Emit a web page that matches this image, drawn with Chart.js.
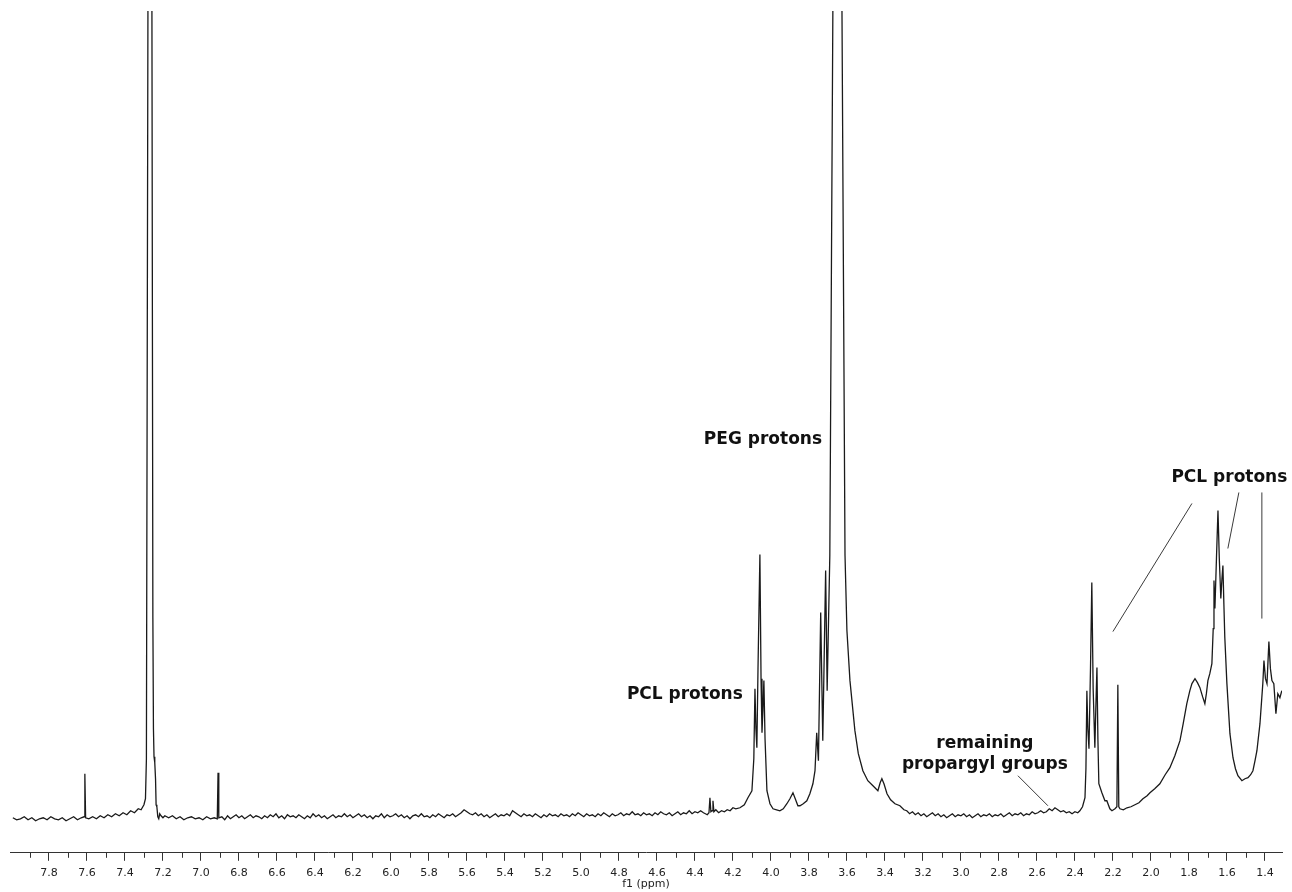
<!DOCTYPE html>
<html>
<head>
<meta charset="utf-8">
<script src="https://cdn.jsdelivr.net/npm/chart.js@4.4.1/dist/chart.umd.min.js"></script>
<style>
  html, body { margin: 0; padding: 0; background: #fff; }
  #wrap { width: 1292px; height: 892px; }
</style>
</head>
<body>
<div id="wrap"><canvas id="nmr" width="1292" height="892"></canvas></div>
<script>
// chemical shift (ppm) and intensity (a.u., 0 = baseline), region by region

// 8.0 - 6.9 ppm: 7.61, CDCl3 at 7.26, 6.91
const aromaticPpm = [
  7.99, 7.97, 7.95, 7.93, 7.91, 7.89, 7.87, 7.85, 7.83, 7.81, 7.79, 7.77, 7.75, 7.73, 7.71, 7.69, 7.67, 7.65, 7.63,
  7.615, 7.611, 7.607,
  7.59, 7.57, 7.55, 7.53, 7.51, 7.49, 7.47, 7.45, 7.43, 7.41, 7.39, 7.37, 7.35, 7.33, 7.315, 7.30, 7.292, 7.287,
  7.279, 7.268, 7.258, 7.253, 7.250, 7.247, 7.243, 7.239, 7.236, 7.232, 7.227, 7.222, 7.217, 7.21, 7.20, 7.19,
  7.17, 7.15, 7.13, 7.11, 7.09, 7.07, 7.05, 7.03, 7.01, 6.99, 6.97, 6.95, 6.93, 6.914, 6.910, 6.906
];
const aromaticSignal = [
  1, -1, 0, 2, -1, 1, -2, 0, 1, -1, 2, 0, -1, 1, -2, 0, 2, -1, 1,
  2, 45, 1,
  0, 2, 0, 3, 1, 4, 2, 5, 3, 6, 4, 8, 6, 10, 9, 14, 20, 60,
  807, 2500, 807, 200, 90, 62, 56, 40, 14, 12, 2, 0, 5, 3, 1, 3,
  1, 3, 0, 2, -1, 1, 2, 0, 1, -1, 2, 0, 1, 0, 46, 1
];

// 6.9 - 4.36 ppm: empty baseline
const baselinePpm = [
  6.890, 6.875, 6.860, 6.845, 6.830, 6.815, 6.800, 6.785, 6.770, 6.755,
  6.740, 6.725, 6.710, 6.695, 6.680, 6.665, 6.650, 6.635, 6.620, 6.605,
  6.590, 6.575, 6.560, 6.545, 6.530, 6.515, 6.500, 6.485, 6.470, 6.455,
  6.440, 6.425, 6.410, 6.395, 6.380, 6.365, 6.350, 6.335, 6.320, 6.305,
  6.290, 6.275, 6.260, 6.245, 6.230, 6.215, 6.200, 6.185, 6.170, 6.155,
  6.140, 6.125, 6.110, 6.095, 6.080, 6.065, 6.050, 6.035, 6.020, 6.005,
  5.990, 5.975, 5.960, 5.945, 5.930, 5.915, 5.900, 5.885, 5.870, 5.855,
  5.840, 5.825, 5.810, 5.795, 5.780, 5.765, 5.750, 5.735, 5.720, 5.705,
  5.690, 5.675, 5.660, 5.645, 5.630, 5.615, 5.600, 5.585, 5.570, 5.555,
  5.540, 5.525, 5.510, 5.495, 5.480, 5.465, 5.450, 5.435, 5.420, 5.405,
  5.390, 5.375, 5.360, 5.345, 5.330, 5.315, 5.300, 5.285, 5.270, 5.255,
  5.240, 5.225, 5.210, 5.195, 5.180, 5.165, 5.150, 5.135, 5.120, 5.105,
  5.090, 5.075, 5.060, 5.045, 5.030, 5.015, 5.000, 4.985, 4.970, 4.955,
  4.940, 4.925, 4.910, 4.895, 4.880, 4.865, 4.850, 4.835, 4.820, 4.805,
  4.790, 4.775, 4.760, 4.745, 4.730, 4.715, 4.700, 4.685, 4.670, 4.655,
  4.640, 4.625, 4.610, 4.595, 4.580, 4.565, 4.550, 4.535, 4.520, 4.505,
  4.490, 4.475, 4.460, 4.445, 4.430, 4.415, 4.400, 4.385, 4.370, 4.355
];
const baselineSignal = [
  2, -1, 3, 0, 2, 4, 1, 3, 0, 2,
  4, 1, 3, 2, 0, 3, 1, 4, 2, 5,
  1, 3, 0, 4, 2, 3, 1, 4, 2, 0,
  3, 1, 5, 2, 4, 1, 3, 0, 2, 4,
  1, 3, 2, 5, 2, 4, 1, 3, 5, 2,
  4, 1, 3, 0, 3, 2, 5, 1, 4, 2,
  3, 5, 2, 4, 1, 3, 0, 3, 4, 2,
  5, 2, 3, 1, 4, 2, 5, 3, 1, 4,
  3, 5, 2, 4, 6, 9, 7, 5, 4, 6,
  3, 5, 2, 4, 1, 3, 5, 2, 4, 3,
  5, 3, 8, 6, 4, 2, 5, 3, 4, 2,
  5, 3, 1, 4, 2, 5, 3, 4, 2, 5,
  3, 4, 2, 5, 3, 6, 4, 2, 5, 3,
  4, 2, 5, 3, 6, 4, 2, 5, 3, 4,
  6, 3, 5, 4, 7, 4, 5, 3, 6, 4,
  5, 3, 6, 4, 7, 5, 4, 6, 3, 5,
  7, 4, 6, 5, 8, 5, 7, 6, 8, 6
];

// 4.35 - 3.30 ppm: PCL 4.06, PEG 3.64
const pegPpm = [
  4.345, 4.335, 4.326, 4.321, 4.316, 4.310, 4.305, 4.300, 4.29, 4.275, 4.26, 4.245, 4.23, 4.215, 4.20, 4.185,
  4.163, 4.14, 4.121, 4.10, 4.09, 4.084, 4.079, 4.074, 4.068, 4.058, 4.052, 4.047, 4.042, 4.037, 4.031, 4.021,
  4.005, 3.989, 3.97, 3.953, 3.935, 3.916, 3.90, 3.884, 3.872, 3.858, 3.847, 3.83, 3.811, 3.795, 3.779, 3.768,
  3.759, 3.75, 3.738, 3.727, 3.712, 3.704, 3.690, 3.674, 3.66, 3.648, 3.636, 3.626,
  3.610, 3.60, 3.584, 3.558, 3.54, 3.516, 3.49, 3.463, 3.437, 3.425, 3.416, 3.405, 3.389, 3.37, 3.347, 3.321, 3.30
];
const pegSignal = [
  5, 4, 6, 21, 7, 8, 18, 7, 9, 6, 8, 7, 9, 8, 11, 10,
  11, 14, 21, 28, 60, 130, 90, 71, 150, 264, 140, 86, 110, 138, 80, 28,
  15, 10, 9, 8, 10, 15, 20, 26, 20, 13, 13, 15, 18, 25, 35, 48,
  86, 58, 206, 78, 248, 128, 263, 807, 1800, 2600, 1800, 807,
  263, 188, 138, 88, 65, 48, 38, 33, 28, 36, 40, 35, 25, 19, 15, 13, 9
];

// 3.29 - 2.39 ppm: baseline, propargyl bump near 2.5
const propargylPpm = [
  3.285, 3.270, 3.255, 3.240, 3.225, 3.210, 3.195, 3.180, 3.165, 3.150,
  3.135, 3.120, 3.105, 3.090, 3.075, 3.060, 3.045, 3.030, 3.015, 3.000,
  2.985, 2.970, 2.955, 2.940, 2.925, 2.910, 2.895, 2.880, 2.865, 2.850,
  2.835, 2.820, 2.805, 2.790, 2.775, 2.760, 2.745, 2.730, 2.715, 2.700,
  2.685, 2.670, 2.655, 2.640, 2.625, 2.610, 2.595, 2.580, 2.565, 2.550,
  2.535, 2.520, 2.505, 2.490, 2.475, 2.460, 2.445, 2.430, 2.415, 2.400,
  2.385
];
const propargylSignal = [
  8, 5, 7, 4, 6, 3, 5, 2, 4, 6,
  3, 5, 2, 4, 1, 3, 5, 2, 4, 3,
  5, 2, 4, 1, 3, 5, 2, 4, 3, 5,
  2, 4, 3, 5, 2, 4, 6, 3, 5, 4,
  6, 3, 5, 4, 7, 5, 6, 8, 6, 7,
  10, 8, 11, 9, 7, 8, 6, 7, 5, 7,
  6
];

// 2.38 - 1.31 ppm: PCL 2.31, 2.17, 1.65, 1.38
const pclPpm = [
  2.374, 2.36, 2.347, 2.342, 2.337, 2.332, 2.326, 2.318, 2.311, 2.304, 2.295, 2.29, 2.284, 2.279, 2.274, 2.258,
  2.242, 2.232, 2.216, 2.205, 2.189, 2.179, 2.174, 2.169, 2.163, 2.145, 2.126, 2.105, 2.084, 2.063, 2.042, 2.02,
  2.005, 1.98, 1.953, 1.925, 1.90, 1.874, 1.847, 1.83, 1.811, 1.795, 1.784, 1.768, 1.755, 1.742, 1.728, 1.716,
  1.708, 1.70, 1.69, 1.679, 1.672, 1.668, 1.663, 1.655, 1.647, 1.64, 1.632, 1.626, 1.621, 1.616, 1.611, 1.60,
  1.584, 1.568, 1.555, 1.542, 1.521, 1.505, 1.489, 1.475, 1.463, 1.452, 1.442, 1.426, 1.411, 1.405, 1.397, 1.389,
  1.379, 1.371, 1.363, 1.353, 1.342, 1.332, 1.321, 1.311
];
const pclSignal = [
  8, 12, 21, 50, 128, 90, 70, 150, 236, 130, 71, 110, 151, 80, 35, 26,
  18, 18, 10, 8, 10, 12, 134, 12, 10, 9, 11, 12, 14, 16, 20, 23,
  26, 30, 35, 44, 51, 63, 78, 95, 115, 128, 135, 140, 136, 131, 122, 115,
  125, 138, 145, 155, 190, 238, 210, 260, 308, 260, 220, 240, 253, 215, 181, 135,
  85, 61, 50, 43, 38, 40, 41, 44, 48, 58, 68, 95, 135, 158, 140, 135,
  177, 150, 138, 135, 105, 125, 121, 128
];

const ppm = [...aromaticPpm, ...baselinePpm, ...pegPpm, ...propargylPpm, ...pclPpm];
const signal = [...aromaticSignal, ...baselineSignal, ...pegSignal, ...propargylSignal, ...pclSignal];

const axisTitle = "f1 (ppm)";

// labels: text lines, anchor in ppm / intensity
const labels = [
  { lines: ["PEG protons"], ppm: 4.042, value: 374 },
  { lines: ["PCL protons"], ppm: 4.453, value: 120 },
  { lines: ["PCL protons"], ppm: 1.587, value: 336 },
  { lines: ["remaining", "propargyl groups"], ppm: 2.874, value: 71 }
];
// pointer lines [ppm1, value1, ppm2, value2]
const pointers = [
  [2.70, 43, 2.542, 13],
  [1.784, 315, 2.20, 187],
  [1.537, 326, 1.595, 270],
  [1.416, 326, 1.416, 200]
];

const isMajor = (v) => Math.round(v * 10) % 2 === 0;

const annotate = {
  id: "annotate",
  afterDraw(chart) {
    const { ctx, scales } = chart;
    const x = scales.x, y = scales.y;

    // short minor ticks
    ctx.save();
    ctx.strokeStyle = "#333";
    ctx.lineWidth = 1;
    x.ticks.forEach((t) => {
      if (isMajor(t.value) || t.value > 7.95) return;
      const px = Math.round(x.getPixelForValue(t.value)) + 0.5;
      ctx.beginPath();
      ctx.moveTo(px, x.top);
      ctx.lineTo(px, x.top + 5);
      ctx.stroke();
    });

    ctx.fillStyle = "#222";
    ctx.font = '11px "DejaVu Sans"';
    ctx.textAlign = "center";
    ctx.textBaseline = "middle";
    ctx.fillText(axisTitle, (x.left + x.right) / 2, x.top + 31);

    ctx.strokeStyle = "#3a3a3a";
    pointers.forEach((p) => {
      ctx.beginPath();
      ctx.moveTo(x.getPixelForValue(p[0]), y.getPixelForValue(p[1]));
      ctx.lineTo(x.getPixelForValue(p[2]), y.getPixelForValue(p[3]));
      ctx.stroke();
    });

    ctx.fillStyle = "#111";
    ctx.font = 'bold 17px "DejaVu Sans"';
    ctx.textBaseline = "alphabetic";
    labels.forEach((l) => {
      const px = x.getPixelForValue(l.ppm);
      const py = y.getPixelForValue(l.value);
      l.lines.forEach((line, i) => ctx.fillText(line, px, py + i * 21));
    });
    ctx.restore();
  }
};

new Chart(document.getElementById("nmr"), {
  type: "line",
  data: {
    datasets: [
      {
        data: ppm.map((p, i) => ({ x: p, y: signal[i] })),
        borderColor: "#1a1a1a",
        borderWidth: 1.3,
        pointRadius: 0,
        tension: 0,
        fill: false
      }
    ]
  },
  options: {
    responsive: false,
    animation: false,
    devicePixelRatio: 1,
    layout: { padding: { left: 10, right: 10, top: 11, bottom: 6 } },
    plugins: { legend: { display: false }, tooltip: { enabled: false } },
    scales: {
      x: {
        type: "linear",
        reverse: true,
        min: 1.31,
        max: 8.005,
        border: { display: true, color: "#333", width: 1 },
        grid: {
          drawOnChartArea: false,
          drawTicks: true,
          tickLength: 8,
          tickColor: (c) =>
            c.tick && isMajor(c.tick.value) && c.tick.value < 7.95 ? "#333" : "rgba(0,0,0,0)"
        },
        ticks: {
          stepSize: 0.1,
          autoSkip: false,
          maxRotation: 0,
          includeBounds: false,
          padding: 6,
          color: "#222",
          font: { family: "DejaVu Sans", size: 11 },
          callback: (v) => (isMajor(v) && v < 7.95 ? (Math.round(v * 10) / 10).toFixed(1) : "")
        }
      },
      y: { display: false, min: -34, max: 807 }
    }
  },
  plugins: [annotate]
});
</script>
</body>
</html>
